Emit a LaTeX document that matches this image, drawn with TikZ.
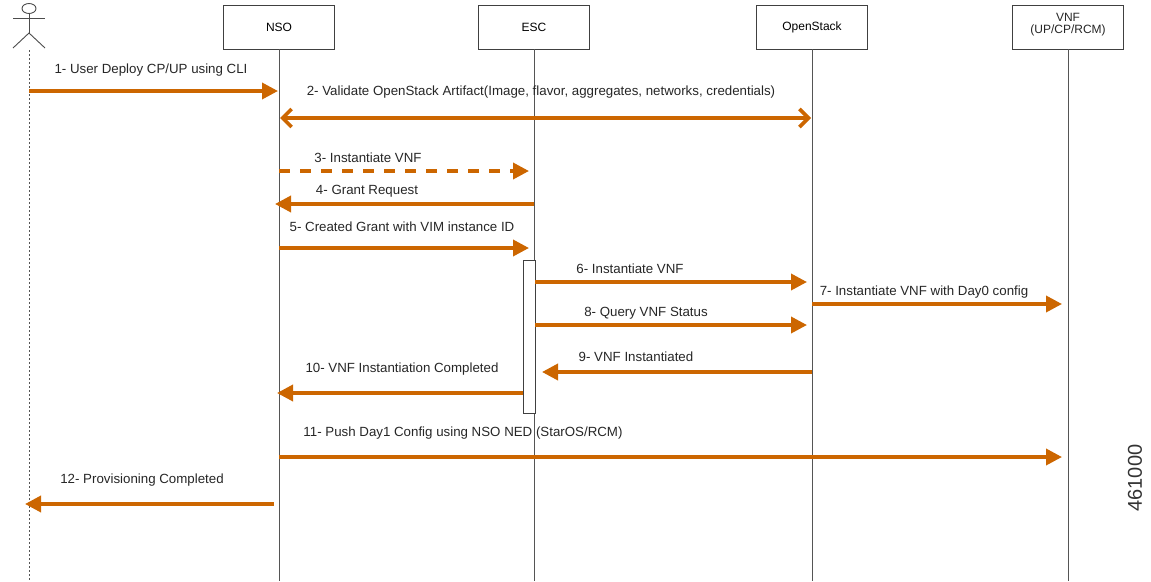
\documentclass[tikz,border=0pt]{standalone}
\usepackage{fontspec}
\setmainfont{Liberation Sans}
\usetikzlibrary{arrows.meta,shapes.geometric}
\definecolor{msg}{RGB}{204,102,0}
\definecolor{life}{RGB}{85,85,85}
\begin{document}
\begin{tikzpicture}[x=1pt,y=-1pt,
  box/.style={draw=black!75, line width=0.8pt, fill=white, minimum width=111pt, minimum height=44pt, inner sep=0pt, font=\fontsize{12}{12}\selectfont},
  lifeline/.style={draw=life, line width=0.8pt},
  actline/.style={draw=life, line width=0.8pt, dash pattern=on 2pt off 2pt},
  msgline/.style={draw=msg, line width=3.6pt, -{Triangle[length=16pt,width=16pt]}},
  biline/.style={draw=msg, line width=3.6pt, {Straight Barb[length=9pt,width=18pt]}-{Straight Barb[length=9pt,width=18pt]}},
  lbl/.style={font=\fontsize{13.3}{15}\selectfont, inner sep=0pt, text=black!85},
  actor/.style={draw=black!70, line width=0.9pt}
]
\useasboundingbox (0,0) rectangle (1151,581);

% actor
\node[actor, ellipse, minimum width=14pt, minimum height=10pt, inner sep=0pt] (head) at (29,8.5) {};
\coordinate (hip) at (29,33);
\coordinate (armL) at (13,18);
\coordinate (armR) at (45,18);
\coordinate (legL) at (13,48);
\coordinate (legR) at (45,48);
\draw[actor] (head.south) -- (hip);
\draw[actor] (armL) -- (armR);
\draw[actor] (legL) -- (hip) -- (legR);

% participants
\node[box] (nso) at (279,27) {NSO};
\node[box] (esc) at (534,27) {ESC};
\node[box] (ops) at (812,27) {OpenStack};
\node[box] (vnf) at (1068,27) {};
\node[lbl, font=\fontsize{12}{12}\selectfont, align=center] (vnft) at (1068,24.5) {VNF\\(UP/CP/RCM)};

% lifelines
\coordinate (actTop) at (29,50);
\coordinate (actEnd) at (29,581);
\coordinate (nsoEnd) at (279,581);
\coordinate (escEnd) at (534,581);
\coordinate (opsEnd) at (812,581);
\coordinate (vnfEnd) at (1068,581);
\draw[actline] (actTop) -- (actEnd);
\draw[lifeline] (nso.south) -- (nsoEnd);
\draw[lifeline] (esc.south) -- (escEnd);
\draw[lifeline] (ops.south) -- (opsEnd);
\draw[lifeline] (vnf.south) -- (vnfEnd);

% activation
\node[draw=black!75, line width=0.8pt, fill=white, minimum width=12pt, minimum height=153pt, inner sep=0pt] (act) at (529,336.5) {};

% message end points
\coordinate (a1) at (29,91);   \coordinate (b1) at (278,91);
\coordinate (a2) at (280,118); \coordinate (b2) at (811,118);
\coordinate (a3) at (279,171); \coordinate (b3) at (529,171);
\coordinate (a4) at (534,204); \coordinate (b4) at (275,204);
\coordinate (a5) at (279,248); \coordinate (b5) at (529,248);
\coordinate (a6) at (535,282); \coordinate (b6) at (807,282);
\coordinate (a7) at (812,304); \coordinate (b7) at (1062,304);
\coordinate (a8) at (535,325); \coordinate (b8) at (807,325);
\coordinate (a9) at (812,372); \coordinate (b9) at (542,372);
\coordinate (a10) at (523,393); \coordinate (b10) at (277,393);
\coordinate (a11) at (279,457); \coordinate (b11) at (1062,457);
\coordinate (a12) at (274,504); \coordinate (b12) at (25,504);

\draw[msgline] (a1) -- (b1);
\draw[biline] (a2) -- (b2);
\draw[msgline, dash pattern=on 11pt off 10pt] (a3) -- (b3);
\draw[msgline] (a4) -- (b4);
\draw[msgline] (a5) -- (b5);
\draw[msgline] (a6) -- (b6);
\draw[msgline] (a7) -- (b7);
\draw[msgline] (a8) -- (b8);
\draw[msgline] (a9) -- (b9);
\draw[msgline] (a10) -- (b10);
\draw[msgline] (a11) -- (b11);
\draw[msgline] (a12) -- (b12);

% labels
\node[lbl] (l1) at (151,70) {1- User Deploy CP/UP using CLI};
\node[lbl] (l2) at (541,92) {2- Validate OpenStack Artifact(Image, flavor, aggregates, networks, credentials)};
\node[lbl] (l3) at (368,158) {3- Instantiate VNF};
\node[lbl] (l4) at (367,191) {4- Grant Request};
\node[lbl] (l5) at (402,227) {5- Created Grant with VIM instance ID};
\node[lbl] (l6) at (630,269) {6- Instantiate VNF};
\node[lbl] (l7) at (924,292) {7- Instantiate VNF with Day0 config};
\node[lbl] (l8) at (646,313) {8- Query VNF Status};
\node[lbl] (l9) at (636,357) {9- VNF Instantiated};
\node[lbl] (l10) at (402,369) {10- VNF Instantiation Completed};
\node[lbl] (l11) at (463,433) {11- Push Day1 Config using NSO NED (StarOS/RCM)};
\node[lbl] (l12) at (142,480) {12- Provisioning Completed};

\node[font=\fontsize{20}{22}\selectfont, text=black!80, rotate=90, inner sep=0pt] (fig) at (1135,478) {461000};
\end{tikzpicture}
\end{document}
